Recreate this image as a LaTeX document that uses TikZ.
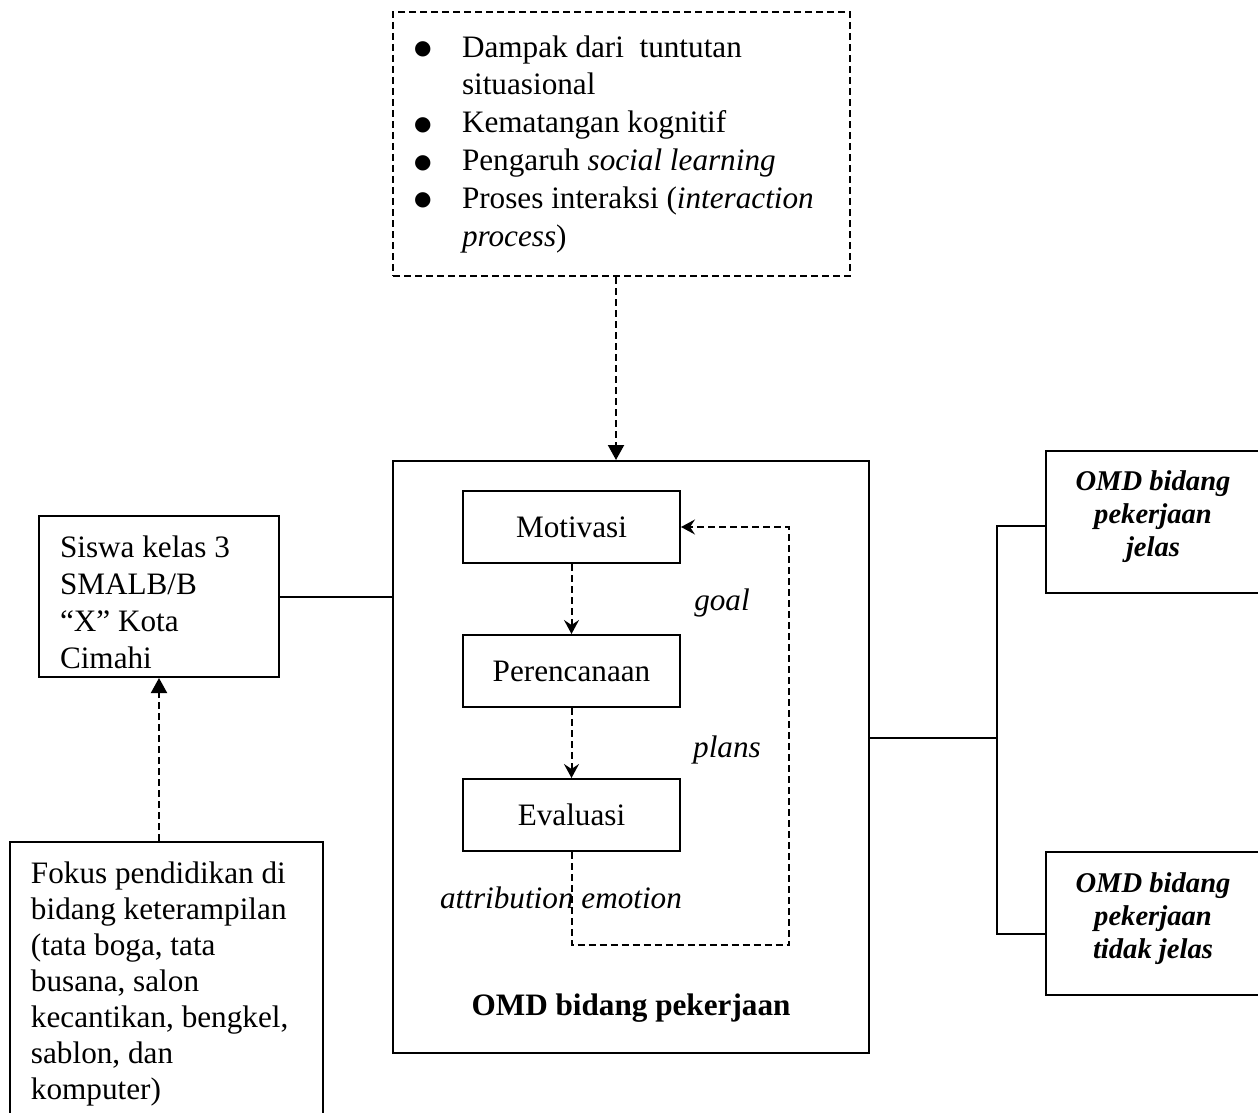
\documentclass[tikz,border=0pt]{standalone}
\usepackage{fontspec}
\setmainfont{Liberation Serif}
\newfontfamily\symfont{DejaVu Sans}
\usetikzlibrary{arrows.meta}
\newcommand{\bul}{\makebox[23.5pt][l]{\hspace*{-0.5pt}\raisebox{1.2pt}{\symfont\fontsize{10pt}{10pt}\selectfont ●}}}
\begin{document}
\begin{tikzpicture}[x=0.5pt,y=-0.5pt,
  box/.style={draw, line width=1pt, inner sep=0pt},
  txt/.style={font=\fontsize{15.6pt}{18.5pt}\selectfont},
  txtb/.style={font=\fontsize{15.6pt}{18.5pt}\selectfont\bfseries},
  txti/.style={font=\fontsize{15.6pt}{18.5pt}\selectfont\itshape},
  txtr/.style={font=\fontsize{14.3pt}{16.5pt}\selectfont\bfseries\itshape},
  dline/.style={line width=1pt, dash pattern=on 3.5pt off 2pt},
  conn/.style={line width=1pt},
  tri/.style={-{Triangle[length=7.5pt,width=8pt]}},
  barb/.style={-{Stealth[length=7pt,width=7.5pt,inset=2.5pt]}}
]
\path[use as bounding box, fill=white] (0,0) rectangle (1258,1113);
\clip (0,0) rectangle (1258,1113);

% top factors box
\node[box, dash pattern=on 3.5pt off 2pt, minimum width=228.5pt, minimum height=132pt,
      text width=206.5pt, inner xsep=11pt, align=flush left,
      font=\fontsize{15.6pt}{18.9pt}\selectfont] (top) at (621.5,144)
 {\bul Dampak dari\ \ tuntutan\\
  \hspace*{23.5pt}situasional\\
  \bul Kematangan kognitif\\
  \bul Pengaruh \textit{social learning}\\
  \bul Proses interaksi (\textit{interaction}\\
  \hspace*{23.5pt}\textit{process})};

% main box
\node[box, minimum width=238pt, minimum height=296pt] (main) at (631,757) {};
\node[box, txt, minimum width=108.5pt, minimum height=36pt] (mot) at (571.5,527) {Motivasi};
\node[box, txt, minimum width=108.5pt, minimum height=36pt] (per) at (571.5,671) {Perencanaan};
\node[box, txt, minimum width=108.5pt, minimum height=36pt] (eva) at (571.5,815) {Evaluasi};
\node[txti] (goal) at (722,603) {goal};
\node[txti] (plans) at (727,750) {plans};
\node[txti] (attr) at (561,898) {attribution emotion};
\node[txtb] (omdt) at (631,1008) {OMD bidang pekerjaan};

% left boxes
\node[box, txt, minimum width=120pt, minimum height=80.5pt, text width=99pt,
      inner xsep=10.5pt, align=flush left] (siswa) at (159,596.5)
 {\rule{0pt}{16.7pt}Siswa kelas 3\\SMALB/B\\“X” Kota\\Cimahi};
\node[box, anchor=north west, text width=135.5pt, inner xsep=10.5pt, inner ysep=10pt,
      align=flush left, font=\fontsize{15.6pt}{18pt}\selectfont] (fokus) at (9,841)
 {Fokus pendidikan di\\bidang keterampilan\\(tata boga, tata\\busana, salon\\kecantikan, bengkel,\\sablon, dan\\komputer)};

% right boxes
\node[box, txtr, minimum width=107pt, minimum height=71pt, align=center] (rt) at (1153,522)
 {OMD bidang\\pekerjaan\\jelas\rule[-8pt]{0pt}{8pt}};
\node[box, txtr, minimum width=107pt, minimum height=71.5pt, align=center] (rb) at (1153,923.5)
 {OMD bidang\\pekerjaan\\tidak jelas\rule[-8pt]{0pt}{8pt}};

% connectors
\draw[conn] (siswa.east) -- (siswa.east -| main.west);
\coordinate (bj) at (997,738);
\coordinate (b1) at (997,526);
\coordinate (b2) at (997,934);
\draw[conn] (main.east |- bj) -- (bj);
\draw[conn] (b1 -| rt.west) -- (b1) -- (b2) -- (b2 -| rb.west);
\coordinate (ta) at (616,300);
\draw[dline, tri] (top.south -| ta) -- (main.north -| ta);
\draw[dline, tri] (fokus.north -| siswa.south) -- (siswa.south);
\draw[dline, barb] (mot.south) -- (per.north);
\draw[dline, barb] (per.south) -- (eva.north);
\coordinate (lp) at (789,945);
\draw[dline, barb] (eva.south) |- (lp) |- (mot.east);
\end{tikzpicture}
\end{document}
